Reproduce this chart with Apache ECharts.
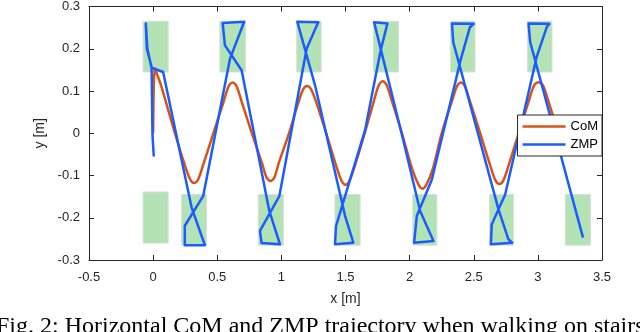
<!DOCTYPE html>
<html>
<head>
<meta charset="utf-8">
<script src="https://cdn.jsdelivr.net/npm/echarts@6/dist/echarts.min.js"></script>
<style>
  html, body { margin: 0; padding: 0; background: #fff; }
  #chart { width: 640px; height: 332px; }
</style>
</head>
<body>
<div id="chart"></div>
<script>
// footstep rectangles (left, right, bottom, top) in metres
var footLeft   = [-0.078, 0.52, 1.12, 1.717, 2.32, 2.92, -0.078, 0.222, 0.82, 1.418, 2.025, 2.623, 3.214];
var footRight  = [ 0.117, 0.72, 1.31, 1.913, 2.51, 3.11,  0.117, 0.417, 1.015, 1.614, 2.212, 2.81, 3.41];
var footBottom = [ 0.145, 0.145, 0.145, 0.145, 0.145, 0.145, -0.26, -0.265, -0.265, -0.265, -0.265, -0.265, -0.265];
var footTop    = [ 0.265, 0.265, 0.265, 0.265, 0.265, 0.265, -0.139, -0.145, -0.145, -0.145, -0.145, -0.145, -0.145];

// CoM trajectory
var comX = [0.0, 0.003, 0.008, 0.015, 0.03, 0.06, 0.17, 0.247, 0.29, 0.32, 0.35,
  0.39, 0.47, 0.55, 0.59, 0.62, 0.65, 0.69, 0.77, 0.85, 0.885, 0.915, 0.945,
  0.98, 1.06, 1.13, 1.17, 1.2, 1.23, 1.27, 1.35, 1.43, 1.47, 1.5, 1.53,
  1.57, 1.65, 1.72, 1.76, 1.79, 1.82, 1.86, 1.94, 2.02, 2.07, 2.1, 2.13,
  2.18, 2.25, 2.33, 2.37, 2.4, 2.43, 2.47, 2.55, 2.63, 2.67, 2.7, 2.73,
  2.77, 2.85, 2.93, 2.97, 3.005, 3.04, 3.08, 3.16];
var comY = [0.0, 0.08, 0.135, 0.153, 0.14, 0.115, 0.0, -0.075, -0.11, -0.118, -0.11,
  -0.075, 0.0, 0.075, 0.112, 0.12, 0.112, 0.075, 0.0, -0.072, -0.105, -0.113, -0.105,
  -0.07, 0.0, 0.07, 0.104, 0.112, 0.105, 0.075, 0.0, -0.08, -0.113, -0.122, -0.113,
  -0.08, 0.0, 0.075, 0.114, 0.123, 0.114, 0.078, 0.0, -0.085, -0.122, -0.131, -0.122,
  -0.085, 0.0, 0.076, 0.112, 0.12, 0.112, 0.076, 0.0, -0.078, -0.112, -0.12, -0.112,
  -0.078, 0.0, 0.077, 0.113, 0.121, 0.113, 0.078, 0.0];

// ZMP trajectory
var zmpX = [0.005, -0.005, -0.012, -0.049, -0.057, -0.045, -0.012, 0.078,
  0.30, 0.404, 0.247, 0.247, 0.39,
  0.599, 0.71, 0.542, 0.56, 0.69,
  0.906, 0.989, 0.846, 0.833, 0.984,
  1.197, 1.27, 1.288, 1.124, 1.262,
  1.497, 1.561, 1.418, 1.426, 1.653,
  1.774, 1.827, 1.723, 1.95,
  2.082, 2.186, 2.035, 2.056, 2.173,
  2.40, 2.47, 2.50, 2.33, 2.34,
  2.693, 2.77, 2.80, 2.634, 2.64, 2.745,
  2.99, 3.07, 3.09, 2.927, 2.94, 3.352];
var zmpY = [-0.055, -0.004, 0.157, 0.2, 0.26, 0.2, 0.155, 0.145,
  -0.176, -0.265, -0.265, -0.219, -0.149,
  0.176, 0.264, 0.261, 0.208, 0.149,
  -0.184, -0.263, -0.26, -0.231, -0.149,
  0.2, 0.251, 0.263, 0.264, 0.114,
  -0.196, -0.259, -0.263, -0.22, 0.008,
  0.196, 0.26, 0.263, -0.016,
  -0.184, -0.255, -0.259, -0.196, -0.11,
  0.176, 0.251, 0.259, 0.26, 0.216,
  -0.18, -0.251, -0.259, -0.263, -0.216, -0.145,
  0.18, 0.252, 0.259, 0.26, 0.216, -0.247];

var xTicks = { min: -0.5, max: 3.5, interval: 0.5 };
var yTicks = { min: -0.3, max: 0.3, interval: 0.1 };

function zip(a, b) {
  return a.map(function (v, i) { return [v, b[i]]; });
}

var feet = footLeft.map(function (v, i) {
  return [v, footRight[i], footBottom[i], footTop[i]];
});

var axisColor = '#262626';
var labelFont = { color: axisColor, fontFamily: 'Liberation Sans', fontSize: 13 };

function mkX(pos, show) {
  return {
    type: 'value', position: pos, min: xTicks.min, max: xTicks.max, interval: xTicks.interval,
    name: show ? 'x [m]' : '', nameLocation: 'middle', nameGap: 32,
    nameTextStyle: { color: axisColor, fontFamily: 'Liberation Sans', fontSize: 14 },
    axisLine: { show: true, onZero: false, lineStyle: { color: axisColor, width: 1 } },
    axisTick: { show: true, inside: true, length: 5, lineStyle: { color: axisColor } },
    axisLabel: Object.assign({ show: show, margin: 11, formatter: function (v) { return +v.toFixed(1); } }, labelFont),
    splitLine: { show: false }
  };
}

function mkY(pos, show) {
  return {
    type: 'value', position: pos, min: yTicks.min, max: yTicks.max, interval: yTicks.interval,
    name: show ? 'y [m]' : '', nameLocation: 'middle', nameGap: 34,
    nameTextStyle: { color: axisColor, fontFamily: 'Liberation Sans', fontSize: 14 },
    axisLine: { show: true, onZero: false, lineStyle: { color: axisColor, width: 1 } },
    axisTick: { show: true, inside: true, length: 5, lineStyle: { color: axisColor } },
    axisLabel: Object.assign({ show: show, margin: 9, formatter: function (v) { return +v.toFixed(1); } }, labelFont),
    splitLine: { show: false }
  };
}

var chart = echarts.init(document.getElementById('chart'), null, { renderer: 'canvas' });

chart.setOption({
  animation: false,
  backgroundColor: '#fff',
  grid: { left: 89, right: 38, top: 6, bottom: 72 },
  xAxis: [mkX('bottom', true), mkX('top', false)],
  yAxis: [mkY('left', true), mkY('right', false)],
  legend: {
    orient: 'vertical',
    right: 38,
    top: 115,
    data: [{ name: 'CoM', icon: 'rect' }, { name: 'ZMP', icon: 'rect' }],
    backgroundColor: '#fff',
    borderColor: axisColor,
    borderWidth: 1,
    borderRadius: 0,
    padding: [4, 4, 4, 5],
    itemGap: 3,
    itemWidth: 43,
    itemHeight: 2.5,
    textStyle: { color: '#000', fontFamily: 'Liberation Sans', fontSize: 13, lineHeight: 15 },
    z: 10
  },
  series: [
    {
      type: 'custom',
      name: 'feet',
      z: 1,
      xAxisIndex: 0,
      yAxisIndex: 0,
      encode: { x: [0, 1], y: [2, 3] },
      data: feet,
      renderItem: function (params, api) {
        var p0 = api.coord([api.value(0), api.value(3)]);
        var p1 = api.coord([api.value(1), api.value(2)]);
        return {
          type: 'rect',
          shape: { x: p0[0], y: p0[1], width: p1[0] - p0[0], height: p1[1] - p0[1] },
          style: { fill: '#b3e3b4', stroke: '#d9dcd9', lineWidth: 1 }
        };
      }
    },
    {
      type: 'line',
      name: 'CoM',
      z: 3,
      data: zip(comX, comY),
      symbol: 'none',
      smooth: 0.3,
      color: '#d95319',
      lineStyle: { color: '#d95319', width: 2.5 }
    },
    {
      type: 'line',
      name: 'ZMP',
      z: 4,
      data: zip(zmpX, zmpY),
      symbol: 'none',
      color: '#1a5cff',
      lineStyle: { color: '#1a5cff', width: 2.5, join: 'round' }
    }
  ],
  graphic: [
    {
      type: 'text',
      left: -4,
      top: 315,
      style: {
        text: 'Fig. 2: Horizontal CoM and ZMP trajectory when walking on stairs',
        font: '24px "Liberation Serif"',
        fill: '#000'
      }
    }
  ]
});
</script>
</body>
</html>
